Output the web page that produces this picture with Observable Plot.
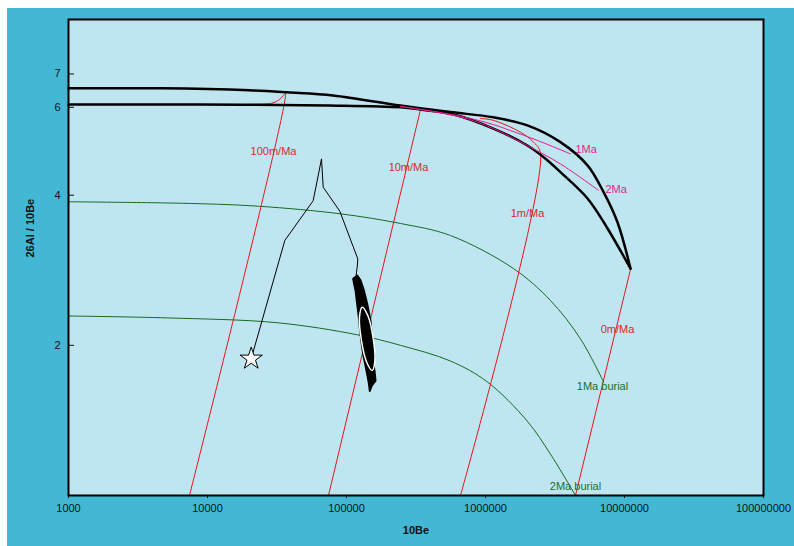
<!DOCTYPE html>
<html><head><meta charset="utf-8">
<script src="https://cdn.jsdelivr.net/npm/d3@7"></script>
<script src="https://cdn.jsdelivr.net/npm/@observablehq/plot@0.6"></script>
<style>
html,body{margin:0;padding:0;overflow:hidden;background:#42B8D4;}
svg{max-width:none !important;display:block;}
</style></head><body><div id="chart"></div><script>
// ticks
const xTicks = [1e3, 1e4, 1e5, 1e6, 1e7, 1e8];
const yTicks = [2, 4, 6, 7];

// [10Be, 26Al/10Be]
const upperCurve = [[1000,6.55],[4600,6.55],[20000,6.49],[37600,6.43],[80000,6.34],[244600,6.05],[560000,5.87],[1.14e6,5.73],[2.0e6,5.52],[3.46e6,5.11],[5.42e6,4.59],[7.06e6,4.06],[8.9e6,3.53],[1.105e7,2.85]];
const lowerCurve = [[1000,6.08],[8900,6.08],[74000,6.05],[244600,6.00],[340700,5.94],[600000,5.80],[1.14e6,5.44],[2.0e6,5.03],[2.61e6,4.77],[3.46e6,4.45],[5.42e6,3.94],[7.55e6,3.43],[1.105e7,2.85]];

const erosion100 = [[18800,6.08],[28400,6.11],[32400,6.20],[35200,6.34],[36400,6.40],[7420,1.0]];
const erosion10 = [[340700,5.94],[74200,1.0]];
const erosion1 = [[920000,5.70],[1.14e6,5.65],[1.785e6,5.35],[2.215e6,5.11],[2.487e6,4.85],[661000,1.0]];
const erosion0 = [[1.105e7,2.84],[4.44e6,1.0]];

const iso1Ma = [[244600,6.03],[661000,5.76],[1.14e6,5.54],[1.513e6,5.39],[2.366e6,5.15],[4.088e6,4.84]];
const iso2Ma = [[244600,6.02],[661000,5.74],[1.14e6,5.44],[2.0e6,5.03],[3.464e6,4.62],[6.5e6,4.09]];

const burial1Ma = [[1000,3.88],[7545,3.85],[23660,3.80],[90540,3.67],[244600,3.51],[560000,3.32],[1.591e6,2.85],[2.935e6,2.46],[4.825e6,2.06],[7.063e6,1.69]];
const burial2Ma = [[1000,2.29],[5131,2.27],[31720,2.22],[119400,2.10],[244600,2.00],[560000,1.86],[1.029e6,1.69],[1.995e6,1.41],[2.935e6,1.21],[4.44e6,1.0]];

const samplePath = [[20630,1.88],[35990,3.245],[57600,3.90],[66100,4.73],[67990,4.15],[89500,3.715],[120600,2.98],[119400,2.87],[116100,2.70]];
const sampleCloud = [[111700,2.72],[114000,2.64],[116100,2.58],[119400,2.42],[122600,2.28],[124500,2.18],[126100,2.11],[129700,1.98],[133200,1.89],[139300,1.78],[144700,1.68],[147100,1.62],[152000,1.66],[161700,1.70],[159000,1.78],[157200,1.81],[158500,1.92],[153000,2.08],[150500,2.16],[148800,2.24],[140900,2.42],[136000,2.52],[133200,2.58],[126100,2.70],[119400,2.76]];
const ellipse = [[129700,2.385],[142500,2.292],[155400,2.070],[160100,1.865],[153000,1.781],[139300,1.854],[127800,2.053],[124000,2.278]];
const startPoint = [[20630,1.88]];

const erosionLabels = [
  {text:"100m/Ma", be:29840, r:4.89},
  {text:"10m/Ma", be:279300, r:4.545},
  {text:"1m/Ma", be:2.006e6, r:3.676},
  {text:"0m/Ma", be:8.9e6, r:2.152}
];
const isoLabels = [
  {text:"1Ma", be:4.44e6, r:4.94},
  {text:"2Ma", be:7.3e6, r:4.106}
];
const burialLabels = [
  {text:"1Ma burial", be:6.945e6, r:1.654},
  {text:"2Ma burial", be:4.44e6, r:1.042}
];

const RED = "#e8141c", PINK = "#e8178a", GREEN = "#116b1f";

const plot = Plot.plot({
  width: 820, height: 570,
  marginLeft: 68, marginRight: 57, marginTop: 19, marginBottom: 75,
  style: {
    background: "linear-gradient(to right, #ffffff 7px, rgba(255,255,255,0) 7px), linear-gradient(to bottom, #ffffff 8px, #42B8D4 8px)",
    fontFamily: "'Liberation Sans', Arial, sans-serif", fontSize: "11px", color: "#111", overflow: "visible"
  },
  x: {type: "log", domain: [1e3, 1e8]},
  y: {type: "log", domain: [1, 9]},
  marks: [
    Plot.frame({fill: "#BFE6F0"}),
    Plot.axisX({ticks: xTicks, tickFormat: d => d3.format("d")(d), tickSize: 3, tickPadding: 6, label: null}),
    Plot.axisY({ticks: yTicks, tickFormat: d => String(d), tickSize: -6, tickPadding: 14, label: null}),
    Plot.line(burial1Ma, {stroke: GREEN, strokeWidth: 1, curve: "catmull-rom"}),
    Plot.line(burial2Ma, {stroke: GREEN, strokeWidth: 1, curve: "catmull-rom"}),
    Plot.line(erosion100, {stroke: RED, strokeWidth: 1, curve: "catmull-rom"}),
    Plot.line(erosion10, {stroke: RED, strokeWidth: 1}),
    Plot.line(erosion1, {stroke: RED, strokeWidth: 1, curve: "catmull-rom"}),
    Plot.line(erosion0, {stroke: RED, strokeWidth: 1}),
    Plot.line(upperCurve, {stroke: "black", strokeWidth: 2.5, curve: "catmull-rom"}),
    Plot.line(lowerCurve, {stroke: "black", strokeWidth: 2.5, curve: "catmull-rom"}),
    Plot.line(iso1Ma, {stroke: PINK, strokeWidth: 1, curve: "catmull-rom"}),
    Plot.line(iso2Ma, {stroke: PINK, strokeWidth: 1, curve: "catmull-rom"}),
    Plot.line(samplePath, {stroke: "black", strokeWidth: 1}),
    Plot.line(sampleCloud, {stroke: "black", fill: "black", strokeWidth: 2, curve: "linear-closed"}),
    Plot.line(ellipse, {stroke: "white", strokeWidth: 1.5, curve: "catmull-rom-closed"}),
    Plot.dot(startPoint, {symbol: "star", r: 7, fill: "white", stroke: "black", strokeWidth: 1}),
    Plot.text(erosionLabels, {x: "be", y: "r", text: "text", fill: "#d9262b", fontSize: 11}),
    Plot.text(isoLabels, {x: "be", y: "r", text: "text", fill: "#e8208e", fontSize: 11, textAnchor: "start"}),
    Plot.text(burialLabels, {x: "be", y: "r", text: "text", fill: "#1c6e2a", fontSize: 11}),
    Plot.text(["10Be"], {frameAnchor: "bottom", text: d => d, dy: 38, fontWeight: "bold", fontSize: 11}),
    Plot.text(["26Al / 10Be"], {frameAnchor: "left", text: d => d, rotate: -90, dx: -38, fontWeight: "bold", fontSize: 11}),
    Plot.frame({stroke: "black", strokeWidth: 2})
  ]
});
document.getElementById("chart").appendChild(plot);
</script></body></html>
